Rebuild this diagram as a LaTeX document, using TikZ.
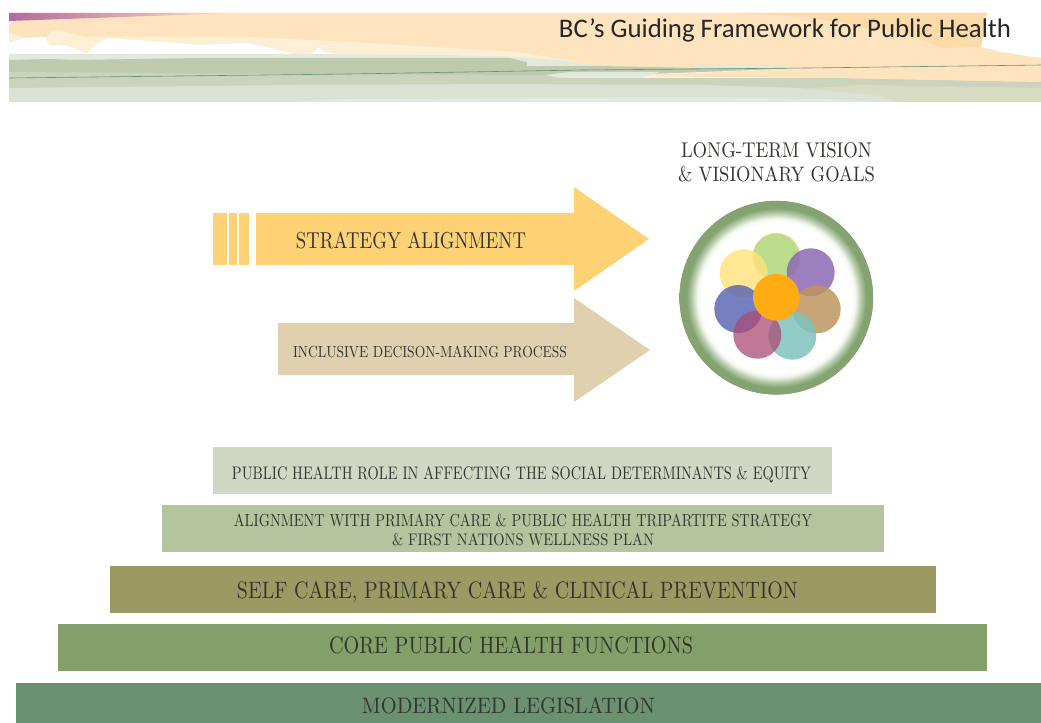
\documentclass[tikz,border=0pt]{standalone}
\usepackage{fontspec}
\usepackage{graphicx}
\newfontfamily\titlefont{Carlito}
\definecolor{txt}{HTML}{33352F}
\definecolor{peach}{HTML}{FDE4BF}
\definecolor{peachlight}{HTML}{FDEFD6}
\definecolor{peachdeep}{HTML}{FDDBA8}
\definecolor{sagedeep}{HTML}{BECAAD}
\definecolor{sagemid}{HTML}{CAD4BD}
\definecolor{sagelight}{HTML}{DBE2D5}
\definecolor{sagepale}{HTML}{E3E9DD}
\definecolor{sagetint}{HTML}{D9DCC4}
\definecolor{plum}{HTML}{B56A9F}
\definecolor{arrowgold}{HTML}{FFD175}
\definecolor{arrowtan}{HTML}{E0D0B0}
\definecolor{barA}{HTML}{D0D8C4}
\definecolor{barB}{HTML}{B3C49E}
\definecolor{barC}{HTML}{9C9A63}
\definecolor{barD}{HTML}{82A068}
\definecolor{barE}{HTML}{6A9170}
\definecolor{ringgreen}{HTML}{84A371}
\definecolor{ringA}{HTML}{F2F6EE}
\definecolor{ringB}{HTML}{BCCFB0}
\definecolor{petalgreen}{HTML}{BBDC8C}
\definecolor{petalyellow}{HTML}{FFE278}
\definecolor{petalpurple}{HTML}{8C69B4}
\definecolor{petalbrown}{HTML}{BE965F}
\definecolor{petalteal}{HTML}{7DC3BE}
\definecolor{petalblue}{HTML}{5F69B4}
\definecolor{petalpink}{HTML}{AA4B73}
\definecolor{petalcore}{HTML}{FFAC14}
\pgfdeclareradialshading{ringshade}{\pgfpoint{0bp}{0bp}}{color(0bp)=(white);color(19.5bp)=(white);color(20.5bp)=(ringA);color(21.7bp)=(ringB);color(23.2bp)=(ringgreen);color(25bp)=(ringgreen);color(50bp)=(ringgreen)}
\newlength{\pxu}\setlength{\pxu}{0.75pt}
\newcommand{\fitw}[3]{\resizebox{#1\pxu}{#2\pxu}{\fontsize{10}{12}\selectfont #3}}
\tikzset{
  lab/.style={inner sep=0pt,text=txt,anchor=base},
}
\begin{document}
\begin{tikzpicture}[x=0.75pt,y=-0.75pt]
\useasboundingbox (0,0) rectangle (1041,723);
% header
\fill[peach] (9,13) -- (987,13) -- (981,47) -- (1001,52) -- (1041,58) -- (1041,102) -- (9,102) -- cycle;
\fill[peachdeep] (731,13) -- (987,13) -- (981,47) -- (944,48) -- (908,35) -- (808,17) -- cycle;
\shade[left color=plum,right color=peach] (9,13) -- (235,13) -- (9,21) -- cycle;
\fill[peachlight] (9,33) -- (25,38) -- (47,37) -- (50,32) -- (57,30) -- (70,33) -- (85,37) -- (107,37) -- (200,37) -- (247,37) -- (290,39) -- (350,42) -- (517,52) -- (583,63) -- (583,64) -- (9,64) -- cycle;
\fill[white] (9,43) -- (25,38) -- (46,37) -- (47,42) -- (50,46) -- (58,45) -- (68,46) -- (78,50) -- (87,54) -- (92,48) -- (107,38) -- (150,41) -- (200,45) -- (247,43) -- (270,48) -- (293,54) -- (312,54) -- (318,48) -- (325,52) -- (335,54) -- (9,55) -- cycle;
\fill[sagepale] (9,54) -- (300,54) -- (450,55) -- (517,57) -- (560,60) -- (600,66) -- (9,66) -- cycle;
\fill[sagedeep] (9,60) -- (50,59) -- (75,60) -- (200,58) -- (510,58) -- (530,63) -- (600,66) -- (700,68) -- (808,68) -- (808,78) -- (9,78) -- cycle;
\fill[sagemid] (9,72) -- (300,74) -- (545,75) -- (840,78) -- (1041,82) -- (1041,102) -- (9,102) -- cycle;
\fill[peachlight] (600,78) -- (650,74) -- (808,68) -- (808,78) -- cycle;
\fill[peach] (650,75) -- (700,73) -- (808,68) -- (1041,65) -- (1041,82) -- (840,78) -- (700,77) -- cycle;
\fill[sagepale] (527,62) -- (590,65) -- (600,66) -- (527,66) -- cycle;
\fill[sagepale] (691,65) -- (771,65) -- (800,68) -- (700,68) -- cycle;
\fill[sagepale] (545,75) -- (570,72) -- (660,72) -- (640,78) -- (560,78) -- cycle;
\fill[sagetint] (780,90) -- (860,85) -- (1041,88) -- (1041,102) -- (780,102) -- cycle;
\fill[sagelight] (9,88) -- (300,85) -- (500,84) -- (700,85) -- (800,88) -- (880,96) -- (900,102) -- (9,102) -- cycle;
\fill[sagepale] (290,102) -- (320,100) -- (350,99) -- (700,97) -- (830,99) -- (875,102) -- cycle;
\draw[barE,line width=.45pt] (9,78) -- (350,74) -- (583,70) -- (808,68) -- (1041,65);
\node[lab,text=black!85] (title) at (785,38) {\resizebox{452\pxu}{!}{\titlefont\fontsize{18}{20}\selectfont BC’s Guiding Framework for Public Health}};
% top arrows
\fill[arrowgold] (213,213) rectangle (227,265);
\fill[arrowgold] (229,213) rectangle (237,265);
\fill[arrowgold] (238.5,213) rectangle (249,265);
\fill[arrowgold] (256,213) -- (574,213) -- (574,187) -- (649,239) -- (574,291) -- (574,265) -- (256,265) -- cycle;
\fill[arrowtan] (278,323) -- (574,323) -- (574,298) -- (650,350) -- (574,402) -- (574,375) -- (278,375) -- cycle;
\node[lab] (strategy) at (411,248) {\fitw{230}{16.5}{STRATEGY ALIGNMENT}};
\node[lab] (inclusive) at (430,358) {\fitw{274}{11.5}{INCLUSIVE DECISON-MAKING PROCESS}};
% vision
\node[lab] (vision1) at (776.5,158) {\fitw{191}{15}{LONG-TERM VISION}};
\node[lab] (vision2) at (776.5,182) {\fitw{197}{15}{\& VISIONARY GOALS}};
\shade[shading=ringshade] (776.3,297.7) circle (96.7);
\draw[ringgreen,line width=.6pt] (776.3,297.7) circle (96.5);
\fill[peachdeep] (776.3,256.7) circle (24);
\fill[petalgreen] (776.3,256.7) circle (23);
\fill[petalyellow,opacity=.8] (743.7,273.3) circle (24);
\fill[petalpurple,opacity=.85] (810.7,272.3) circle (24);
\fill[petalbrown,opacity=.85] (816.7,309.3) circle (24);
\fill[petalteal,opacity=.85] (792.3,335.7) circle (24);
\fill[petalblue,opacity=.85] (738.3,309) circle (24);
\fill[petalpink,opacity=.75] (757.3,334.7) circle (24);
\fill[petalcore] (776.3,297.3) circle (23.3);
% bars
\fill[barA] (213,447) rectangle (832,494);
\fill[barB] (162,505) rectangle (884,552);
\fill[barC] (110,566) rectangle (936,613);
\fill[barD] (58,624) rectangle (987,671);
\fill[barE] (16,683) rectangle (1041,723);
\node[lab] (determinants) at (521.5,479) {\fitw{579}{13}{PUBLIC HEALTH ROLE IN AFFECTING THE SOCIAL DETERMINANTS \& EQUITY}};
\node[lab] (tripartite) at (523,526) {\fitw{578}{12.5}{ALIGNMENT WITH PRIMARY CARE \& PUBLIC HEALTH TRIPARTITE STRATEGY}};
\node[lab] (wellness) at (523,545) {\fitw{262}{12}{\& FIRST NATIONS WELLNESS PLAN}};
\node[lab] (selfcare) at (517.5,598) {\fitw{561}{17}{SELF CARE, PRIMARY CARE \& CLINICAL PREVENTION}};
\node[lab] (core) at (511,653) {\fitw{364}{17}{CORE PUBLIC HEALTH FUNCTIONS}};
\node[lab] (legislation) at (508.5,713) {\fitw{293}{16}{MODERNIZED LEGISLATION}};
\end{tikzpicture}
\end{document}
